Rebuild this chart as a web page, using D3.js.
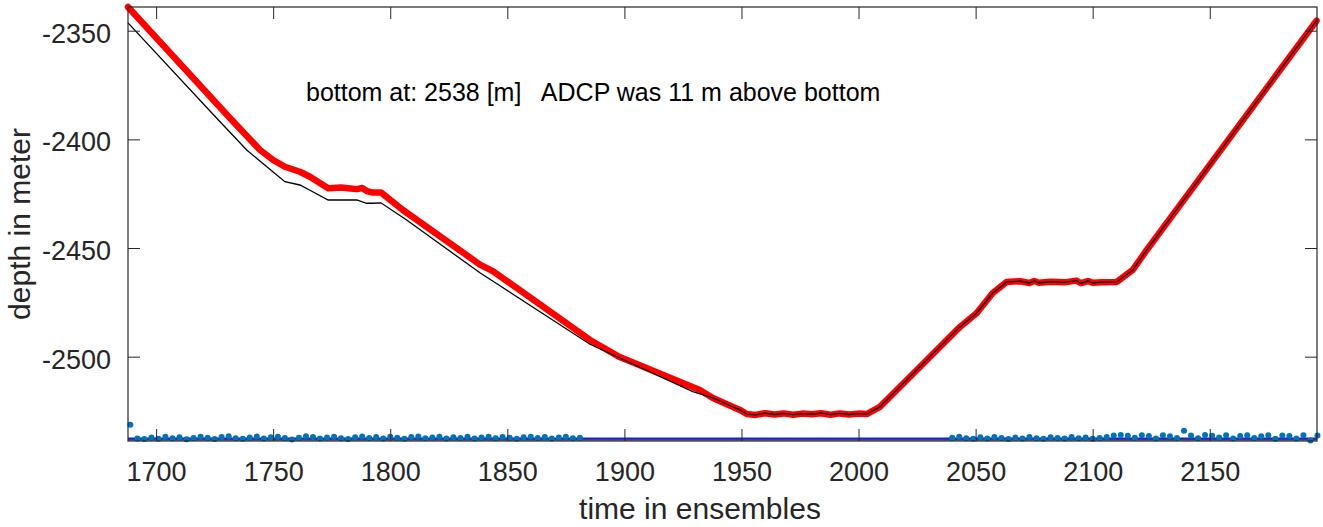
<!DOCTYPE html>
<html>
<head>
<meta charset="utf-8">
<script src="https://cdn.jsdelivr.net/npm/d3@7"></script>
<style>
  body { margin: 0; background: #fff; }
  text { font-family: "Liberation Sans", Arial, Helvetica, sans-serif; fill: #262626; }
</style>
</head>
<body>
<div id="chart"></div>
<script>
// ADCP depth (red markers)
const redTime = [1688, 1731.6, 1744.4, 1750, 1755, 1761.4, 1765.7, 1773.5, 1779, 1783, 1785.8, 1788, 1790, 1792.6, 1796,
  1805.4, 1838.3, 1843.8, 1885.3, 1898, 1932.2, 1937.8, 1944, 1949.3, 1952.3, 1956, 1960, 1964, 1968, 1972, 1976,
  1980, 1984, 1988, 1992, 1996, 2000, 2003.5, 2009.1, 2024.9, 2043.3, 2050.5, 2053.9, 2057.3, 2063.3, 2069, 2073,
  2075, 2077, 2082, 2088, 2093, 2095, 2098, 2100, 2104, 2110.3, 2117.1, 2123.1, 2195.6];
const redDepth = [-2339.1, -2390.3, -2404.9, -2409.5, -2412.6, -2414.9, -2417.2, -2422.5, -2422.2, -2422.6, -2422.9,
  -2422.4, -2423.8, -2424.5, -2424.4, -2432.5, -2457.6, -2460.6, -2492.3, -2500.2, -2515.3, -2519.0, -2522.0, -2524.5,
  -2526.4, -2526.8, -2526.0, -2526.6, -2526.1, -2526.7, -2526.2, -2526.5, -2526.0, -2526.7, -2526.1, -2526.6, -2526.2,
  -2526.4, -2523.1, -2506.1, -2486.3, -2479.9, -2475.3, -2470.7, -2465.6, -2465.3, -2466.1, -2465.2, -2466.0, -2465.5,
  -2465.8, -2465.0, -2466.2, -2465.2, -2466.0, -2465.7, -2465.6, -2460.1, -2450.9, -2345.4];

// pressure depth (thin black line), joins the red one near the bottom
const blackTime = [1688, 1725.9, 1738.7, 1755, 1761.4, 1765.7, 1773.5, 1785.7, 1789.9, 1792.6, 1796, 1807, 1838.3,
  1885.3, 1929.2];
const blackDepth = [-2346.4, -2390.3, -2404.9, -2419.5, -2421.0, -2423.4, -2427.9, -2427.9, -2429.4, -2429.4, -2429.2,
  -2437.1, -2461.4, -2494.3, -2516.1];

// bottom detections (blue dots)
const blueTime = [1689,
  1692, 1695, 1698, 1701, 1704, 1707, 1710, 1713, 1716, 1719, 1722, 1725, 1728, 1731, 1734, 1737, 1740, 1743, 1746,
  1749, 1752, 1755, 1758, 1761, 1764, 1767, 1770, 1773, 1776, 1779, 1782, 1785, 1788, 1791, 1794, 1797, 1800, 1803,
  1806, 1809, 1812, 1815, 1818, 1821, 1824, 1827, 1830, 1833, 1836, 1839, 1842, 1845, 1848, 1851, 1854, 1857, 1860,
  1863, 1866, 1869, 1872, 1875, 1878, 1881,
  2040, 2043, 2046, 2049, 2052, 2055, 2058, 2061, 2064, 2067, 2070, 2073, 2076, 2079, 2082, 2085, 2088, 2091, 2094,
  2097, 2100, 2103, 2106, 2109, 2112, 2115, 2118, 2121, 2124, 2127, 2130, 2133, 2136, 2139, 2142, 2145, 2148, 2151,
  2154, 2157, 2160, 2163, 2166, 2169, 2172, 2175, 2178, 2181, 2184, 2187, 2190, 2193, 2196];
const blueDepth = [-2531.3,
  -2537.6, -2537.9, -2537.2, -2537.8, -2536.9, -2537.5, -2537.1, -2538.0, -2537.4, -2536.8, -2537.3, -2537.9, -2537.0,
  -2536.6, -2537.5, -2537.8, -2537.2, -2536.7, -2537.6, -2537.1, -2536.9, -2537.4, -2538.1, -2537.3, -2536.6, -2537.0,
  -2537.7, -2537.2, -2536.8, -2537.5, -2537.9, -2537.1, -2536.7, -2537.4, -2537.0, -2537.6, -2536.9, -2537.3, -2537.8,
  -2537.0, -2536.7, -2537.5, -2537.2, -2536.9, -2537.6, -2537.1, -2537.4, -2536.8, -2537.7, -2537.2, -2536.9, -2537.5,
  -2537.0, -2537.3, -2537.8, -2537.1, -2536.8, -2537.4, -2537.0, -2537.6, -2537.2, -2536.9, -2537.5, -2537.3,
  -2537.3, -2536.9, -2537.5, -2537.8, -2537.1, -2537.6, -2537.0, -2537.4, -2537.9, -2537.2, -2537.6, -2537.0, -2537.5,
  -2537.8, -2537.1, -2537.4, -2537.7, -2537.0, -2537.5, -2537.2, -2537.8, -2537.4, -2537.0, -2536.3, -2536.0, -2536.4,
  -2537.3, -2536.1, -2536.5, -2537.6, -2536.2, -2536.6, -2537.4, -2534.1, -2536.3, -2537.5, -2536.0, -2536.4, -2537.2,
  -2536.2, -2537.7, -2536.5, -2536.1, -2537.4, -2536.6, -2536.2, -2537.8, -2536.3, -2536.5, -2537.6, -2536.2, -2538.6,
  -2536.3];

const blueLevel = -2537.6;   // blue horizontal line
const bottomLevel = -2538.3; // dark line at the bottom

const xTicks = [1700, 1750, 1800, 1850, 1900, 1950, 2000, 2050, 2100, 2150];
const yTicks = [-2500, -2450, -2400, -2350];
const annotation = "bottom at: 2538 [m]   ADCP was 11 m above bottom";

const margin = { top: 7, right: 6, bottom: 86, left: 128 };
const W = 1323, H = 527;
const width = W - margin.left - margin.right;
const height = H - margin.top - margin.bottom;

const svg = d3.select("#chart").append("svg")
  .attr("width", W).attr("height", H);
const g = svg.append("g").attr("transform", `translate(${margin.left},${margin.top})`);

const x = d3.scaleLinear().domain([1688, 2195.8]).range([0, width]);
const y = d3.scaleLinear().domain([-2538.8, -2339.1]).range([height, 0]);

const line = d3.line().x(d => x(d[0])).y(d => y(d[1]));

const redPts = redTime.map((t, i) => [t, redDepth[i]]);
const blackPts = blackTime.map((t, i) => [t, blackDepth[i]])
  .concat(redPts.filter(d => d[0] >= 1937.8));

// blue and dark bottom lines
g.append("path")
  .datum([[1688, bottomLevel], [2195.8, bottomLevel]])
  .attr("fill", "none").attr("stroke", "#1a1a1a").attr("stroke-width", 1.2)
  .attr("d", line);
g.append("path")
  .datum([[1688, blueLevel], [2195.8, blueLevel]])
  .attr("fill", "none").attr("stroke", "#1f1fe0").attr("stroke-width", 2)
  .attr("d", line);

// blue dots
g.selectAll("circle.blue")
  .data(blueTime.map((t, i) => [t, blueDepth[i]]))
  .enter().append("circle")
  .attr("class", "blue")
  .attr("cx", d => x(d[0]))
  .attr("cy", d => y(d[1]))
  .attr("r", 3)
  .attr("fill", "#0072BD");

// red thick marker line
g.append("path")
  .datum(redPts)
  .attr("fill", "none")
  .attr("stroke", "#ff0000")
  .attr("stroke-width", 6.5)
  .attr("stroke-linejoin", "round")
  .attr("stroke-linecap", "round")
  .attr("d", line);

// black thin line
g.append("path")
  .datum(blackPts)
  .attr("fill", "none")
  .attr("stroke", "#000")
  .attr("stroke-width", 1.3)
  .attr("d", line);

// axes, ticks pointing inward on all four sides
const tickLen = 12;
const fmt = d => String(d);
const bottomAxis = g.append("g").attr("transform", `translate(0,${height})`)
  .call(d3.axisBottom(x).tickValues(xTicks).tickSizeInner(-tickLen).tickSizeOuter(0).tickFormat(fmt));
const leftAxis = g.append("g")
  .call(d3.axisLeft(y).tickValues(yTicks).tickSizeInner(-tickLen).tickSizeOuter(0).tickFormat(fmt));
g.append("g")
  .call(d3.axisTop(x).tickValues(xTicks).tickSizeInner(-tickLen).tickSizeOuter(0).tickFormat(""));
g.append("g").attr("transform", `translate(${width},0)`)
  .call(d3.axisRight(y).tickValues(yTicks).tickSizeInner(-tickLen).tickSizeOuter(0).tickFormat(""));

g.selectAll(".domain").remove();
g.selectAll(".tick line").attr("stroke", "#262626").attr("stroke-width", 1);

bottomAxis.selectAll("text")
  .attr("y", 39.5).attr("dy", null)
  .style("font-size", "27px");
leftAxis.selectAll("text")
  .attr("x", -17).attr("dy", "0.42em")
  .style("font-size", "27px");

// box
g.append("rect")
  .attr("width", width).attr("height", height)
  .attr("fill", "none").attr("stroke", "#262626").attr("stroke-width", 1.2);

// labels
svg.append("text")
  .attr("x", 700).attr("y", 519)
  .attr("text-anchor", "middle")
  .style("font-size", "30px")
  .text("time in ensembles");

svg.append("text")
  .attr("transform", `translate(30,${margin.top + height / 2}) rotate(-90)`)
  .attr("text-anchor", "middle")
  .style("font-size", "30px")
  .text("depth in meter");

svg.append("text")
  .attr("x", 306).attr("y", 101)
  .attr("xml:space", "preserve")
  .style("white-space", "pre")
  .style("font-size", "25px")
  .style("fill", "#000")
  .text(annotation);
</script>
</body>
</html>
